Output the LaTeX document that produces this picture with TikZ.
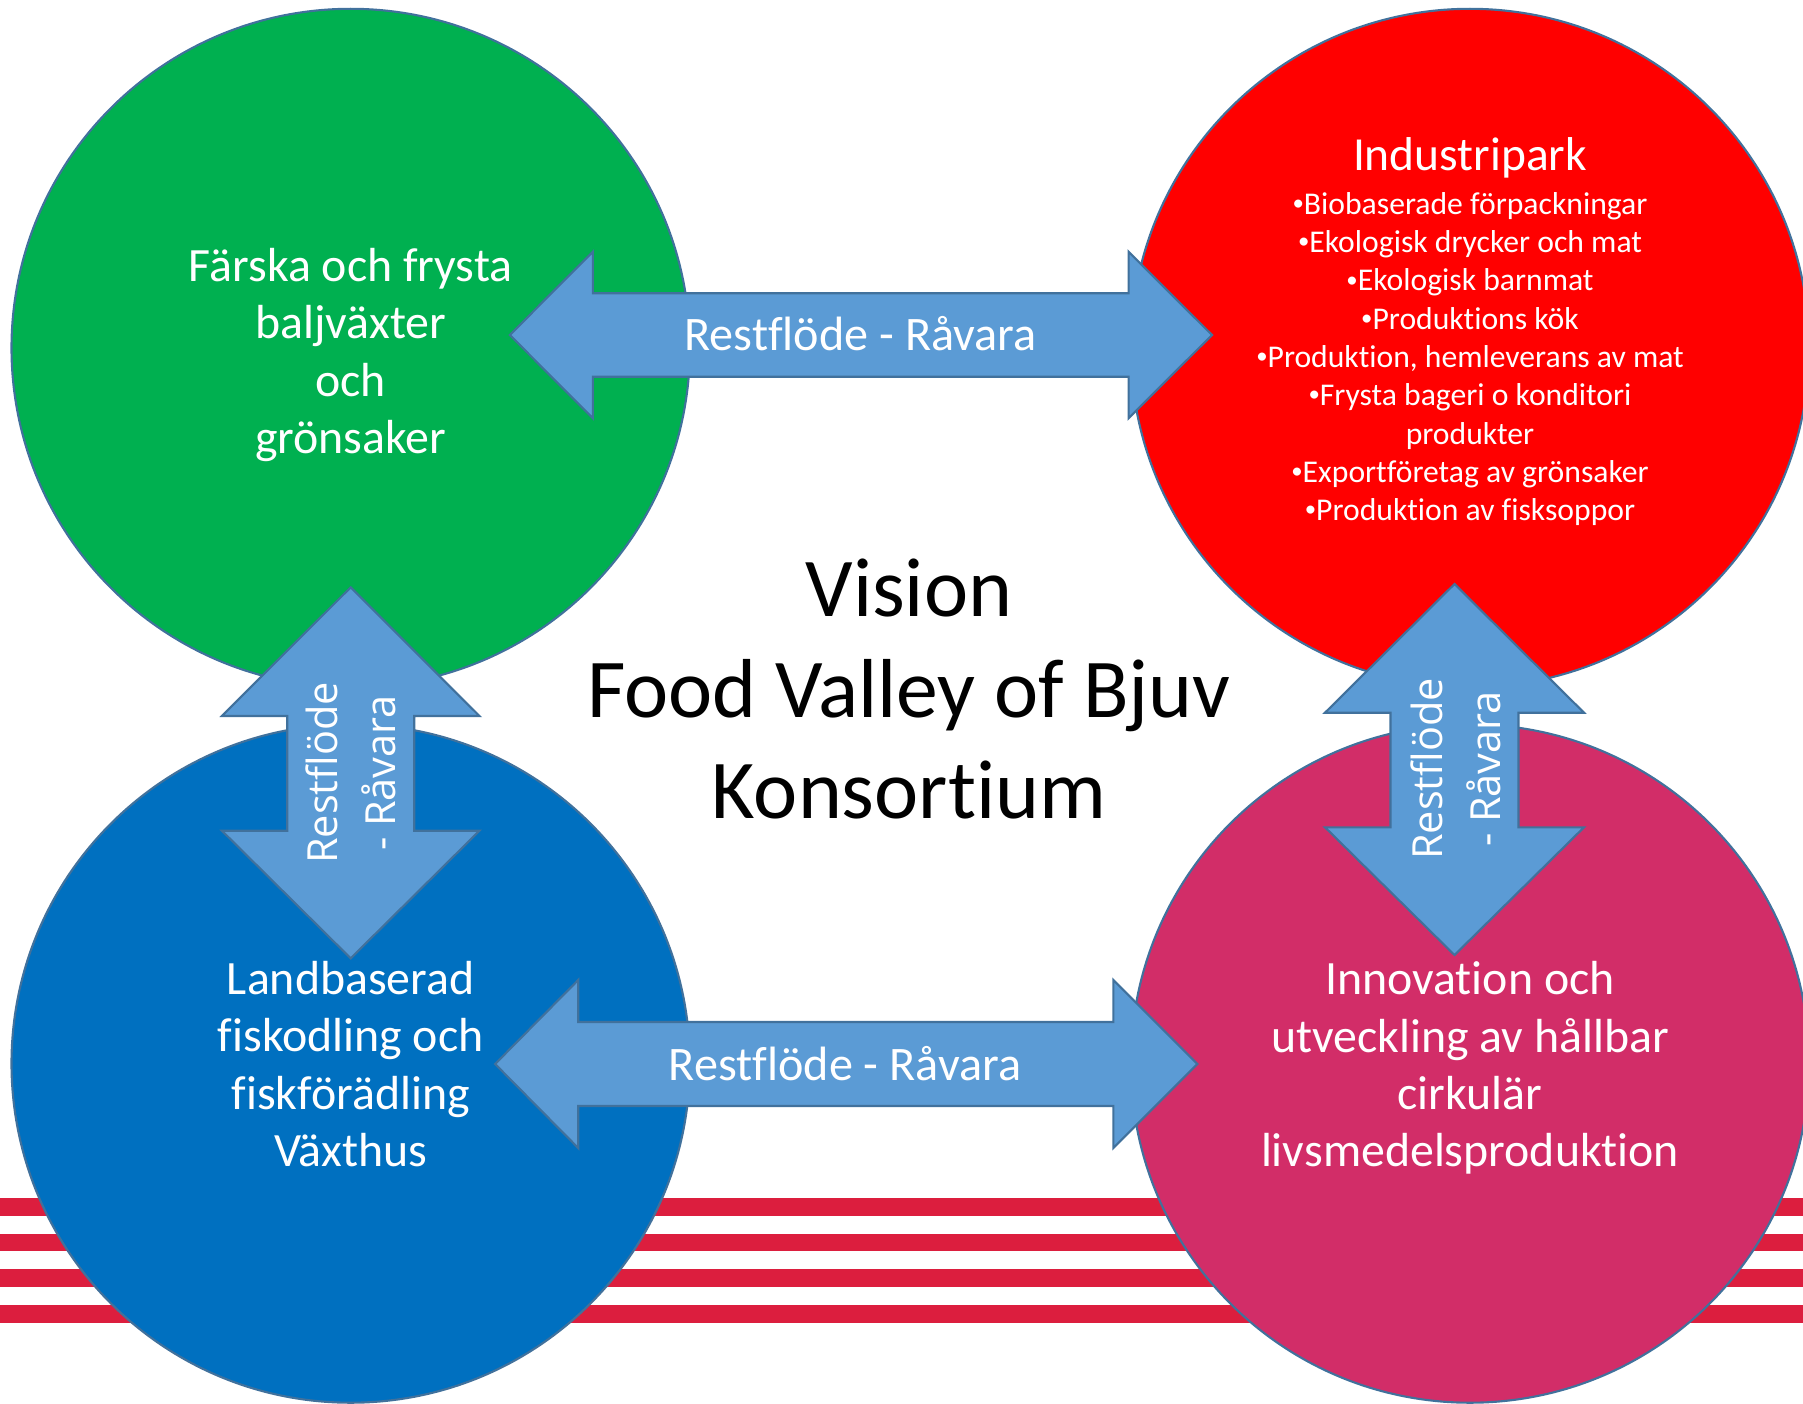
\documentclass[tikz,border=0pt]{standalone}
\usepackage{fontspec}
\setmainfont[Ligatures={NoCommon}]{Carlito}
\newfontfamily\uplabelfont{Open Sans}
\usetikzlibrary{positioning}

\definecolor{leafgreen}{HTML}{00B050}
\definecolor{parkred}{HTML}{FF0000}
\definecolor{fishblue}{HTML}{0070C0}
\definecolor{innopink}{HTML}{D22D68}
\definecolor{flowblue}{HTML}{5B9BD5}
\definecolor{edgeblue}{HTML}{41719C}
\definecolor{stripered}{RGB}{220,30,62}

% small bullet in front of the list items
\newcommand{\dotmark}{\raisebox{0.25ex}{\fontsize{6.5}{6.5}\selectfont•}}

\begin{document}
\begin{tikzpicture}[x=0.01cm,y=-0.01cm,
  hub/.style={circle,draw=edgeblue,line width=0.6pt,minimum size=6.78cm,inner sep=0pt},
  hubtext/.style={text=white,align=center,inner sep=0pt,font=\fontsize{13.6}{16.3}\selectfont},
  flow/.style={fill=flowblue,draw=edgeblue,line width=0.6pt,line join=miter},
  flowtext/.style={text=white,inner sep=0pt,font=\fontsize{13.7}{15}\selectfont},
  uptext/.style={text=white,align=center,inner sep=0pt,rotate=90,font=\uplabelfont\fontsize{11.8}{16.7}\selectfont},
  stripe/.style={fill=stripered}]

\useasboundingbox (0,0) rectangle (1803,1403);
\clip (0,0) rectangle (1803,1403);

% stripes in the background
\fill[stripe] (0,1198) rectangle (1803,1215.5);
\fill[stripe] (0,1233.7) rectangle (1803,1251.2);
\fill[stripe] (0,1269.3) rectangle (1803,1286.8);
\fill[stripe] (0,1305) rectangle (1803,1322.5);

% the four circles
\node[hub,fill=leafgreen] (green) at (350.7,348) {};
\node[hub,fill=parkred] (red) at (1470,348) {};
\node[hub,fill=fishblue] (blue) at (350.7,1063.5) {};
\node[hub,fill=innopink] (pink) at (1470,1063.5) {};

% flows between the circles
\draw[flow] (509.8,335) -- (592.9,251.7) -- (592.9,293.3) -- (1128.6,293.3) -- (1128.6,251.7) -- (1212,335)
  -- (1128.6,418.3) -- (1128.6,376.7) -- (592.9,376.7) -- (592.9,418.3) -- cycle;
\draw[flow] (495.1,1064) -- (578.2,980) -- (578.2,1022) -- (1113.4,1022) -- (1113.4,980) -- (1197.4,1064)
  -- (1113.4,1148) -- (1113.4,1106) -- (578.2,1106) -- (578.2,1148) -- cycle;
\draw[flow] (350.7,587.3) -- (479.5,716) -- (414.2,716) -- (414.2,830.7) -- (479.5,830.7) -- (350.7,958.3)
  -- (221.9,830.7) -- (287.2,830.7) -- (287.2,716) -- (221.9,716) -- cycle;
\draw[flow] (1454.5,584) -- (1584,712.7) -- (1518.5,712.7) -- (1518.5,827.3) -- (1584,827.3) -- (1454.5,955)
  -- (1325,827.3) -- (1390.5,827.3) -- (1390.5,712.7) -- (1325,712.7) -- cycle;

% flow labels
\node[flowtext,anchor=base] (toplabel) at (860.5,350.7) {Restflöde - Råvara};
\node[flowtext,anchor=base] (bottomlabel) at (845,1080) {Restflöde - Råvara};
\node[uptext] (leftlabel) at (350.8,773) {Restflöde\\- Råvara};
\node[uptext] (rightlabel) at (1455.9,769) {Restflöde\\- Råvara};

% circle texts
\node[hubtext] (greentext) at (350.7,355) {Färska och frysta\\baljväxter\\och\\grönsaker};
\node[hubtext] (bluetext) at (350.7,1064) {Landbaserad\\fiskodling och\\fiskförädling\\Växthus};
\node[hubtext] (pinktext) at (1470,1068) {Innovation och\\utveckling av hållbar\\cirkulär\\livsmedelsproduktion};
\node[hubtext,anchor=base,font=\fontsize{13.5}{14}\selectfont] (parktitle) at (1470,170) {Industripark};
\node[hubtext,font=\fontsize{9}{10.9}\selectfont] (parklist) at (1470,359) {\dotmark Biobaserade förpackningar\\\dotmark Ekologisk drycker och mat\\\dotmark Ekologisk barnmat\\\dotmark Produktions kök\\\dotmark Produktion, hemleverans av mat\\\dotmark Frysta bageri o konditori\\produkter\\\dotmark Exportföretag av grönsaker\\\dotmark Produktion av fisksoppor};

% title in the middle
\node[align=center,inner sep=0pt,font=\fontsize{23.8}{28.7}\selectfont] (vision) at (909,689) {Vision\\Food Valley of Bjuv\\Konsortium};
\end{tikzpicture}
\end{document}
